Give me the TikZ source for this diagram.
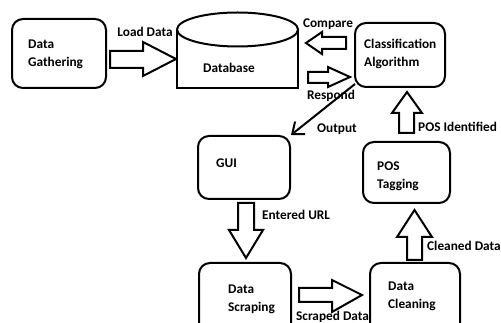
\documentclass[tikz,border=0pt]{standalone}
\usepackage{fontspec}
\setmainfont{Carlito}
\usetikzlibrary{arrows.meta}
\begin{document}
\begin{tikzpicture}[x=1pt,y=-1pt,
  box/.style={draw,line width=2pt,rounded corners=11pt,inner sep=0pt},
  txt/.style={font=\fontsize{13.3}{18}\selectfont\bfseries,align=left,inner sep=0pt},
  blk/.style={draw,line width=2pt,fill=white,line join=miter}]
\useasboundingbox (0,0) rectangle (501,323);
\begin{scope}
\clip (0,0) rectangle (501,323);
% boxes
\node[box,minimum width=94pt,minimum height=69pt] (gath) at (59,53.5) {};
\node[box,minimum width=90pt,minimum height=64pt] (cls) at (400,55) {};
\node[box,minimum width=92pt,minimum height=63pt] (gui) at (244,167.5) {};
\node[box,minimum width=87pt,minimum height=61pt] (pos) at (406.5,172.5) {};
\node[box,minimum width=92pt,minimum height=80pt] (scr) at (245,303) {};
\node[box,minimum width=90pt,minimum height=80pt] (cln) at (415,303) {};
% database
\draw[line width=2pt] (177,29.5) -- (177,88) -- (298,88) -- (298,29.5);
\draw[line width=2pt,fill=white] (237.5,29.5) ellipse [x radius=60.5pt,y radius=17pt];
\node[txt] (dbt) at (229,68) {Database};
% box texts
\node[txt,anchor=west] (gatht) at (28,54) {Data\\Gathering};
\node[txt,anchor=west] (clst) at (364,54) {Classification\\Algorithm};
\node[txt,anchor=west] (guit) at (216,163) {GUI};
\node[txt,anchor=west] (post) at (377,176) {POS\\Tagging};
\node[txt,anchor=west] (scrt) at (228,299) {Data\\Scraping};
\node[txt,anchor=west] (clnt) at (388,296.5) {Data\\Cleaning};
% block arrows
\draw[blk] (110,51) -- (143,51) -- (143,42) -- (176,59) -- (143,76) -- (143,68) -- (110,68) -- cycle;
\draw[blk] (346,37) -- (322,37) -- (322,32) -- (306,43) -- (322,54) -- (322,49) -- (346,49) -- cycle;
\draw[blk] (308,72) -- (328,72) -- (328,67) -- (350,77) -- (328,87) -- (328,83) -- (308,83) -- cycle;
\draw[blk] (238,203) -- (254,203) -- (254,230) -- (263,230) -- (246,258) -- (229,230) -- (238,230) -- cycle;
\draw[blk] (299,288) -- (332,288) -- (332,280) -- (362,295) -- (332,312) -- (332,302) -- (299,302) -- cycle;
\draw[blk] (407,260) -- (407,237) -- (397,237) -- (414.5,210) -- (432,237) -- (422,237) -- (422,260) -- cycle;
\draw[blk] (399,133) -- (399,113) -- (392,113) -- (407,92) -- (422,113) -- (414,113) -- (414,133) -- cycle;
% output connector
\draw[line width=2pt,-{Straight Barb[length=10pt,width=16pt,line width=2pt]}] (cls.south west) ++(1,-4) coordinate (o1) -- (gui.north east);
% labels
\node[txt] (l1) at (145,32) {Load Data};
\node[txt] (l2) at (328,24) {Compare};
\node[txt] (l3) at (331,96) {Respond};
\node[txt] (l4) at (337,129) {Output};
\node[txt,anchor=west] (l5) at (262,215) {Entered URL};
\node[txt,anchor=west] (l6) at (296,317) {Scraped Data};
\node[txt,anchor=west] (l7) at (427,246) {Cleaned Data};
\node[txt,anchor=west] (l8) at (418,127) {POS Identified};
\end{scope}
\end{tikzpicture}
\end{document}
